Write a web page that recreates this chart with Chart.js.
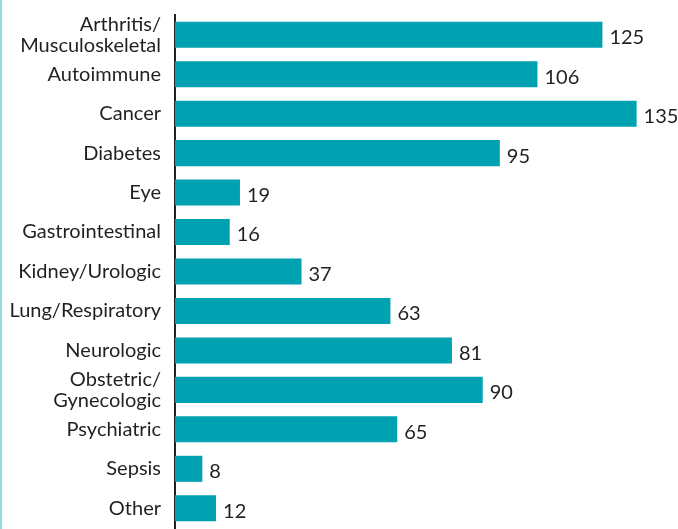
<!DOCTYPE html>
<html lang="en">
<head>
    <meta charset="UTF-8">
    <title>Conditions</title>
    <script src="https://cdn.jsdelivr.net/npm/chart.js"></script>
    <style>
        html, body {
            margin: 0;
            padding: 0;
            background: #fff;
        }
        #wrap {
            position: relative;
            width: 678px;
            height: 529px;
        }
        #edge {
            position: absolute;
            left: 0;
            top: 0;
            width: 2px;
            height: 529px;
            background: #8fdde4;
        }
    </style>
</head>
<body>
    <div id="wrap">
        <canvas id="chart" width="678" height="529"></canvas>
        <div id="edge"></div>
    </div>

    <script>
        // categories (multi-line ones as arrays)
        const categories = [
            ['Arthritis/', 'Musculoskeletal'],
            'Autoimmune',
            'Cancer',
            'Diabetes',
            'Eye',
            'Gastrointestinal',
            'Kidney/Urologic',
            'Lung/Respiratory',
            'Neurologic',
            ['Obstetric/', 'Gynecologic'],
            'Psychiatric',
            'Sepsis',
            'Other'
        ];
        const counts = [125, 106, 135, 95, 19, 16, 37, 63, 81, 90, 65, 8, 12];

        const barColor = '#00a2b1';
        const textColor = '#231f20';
        const fontFamily = 'Lato, "Open Sans", sans-serif';

        // number at the end of each bar
        const valueLabels = {
            id: 'valueLabels',
            afterDatasetsDraw(chart) {
                const ctx = chart.ctx;
                const meta = chart.getDatasetMeta(0);
                ctx.save();
                ctx.font = '20px ' + fontFamily;
                ctx.fillStyle = textColor;
                ctx.textAlign = 'left';
                ctx.textBaseline = 'middle';
                meta.data.forEach((bar, i) => {
                    ctx.fillText(String(counts[i]), bar.x + 7, bar.y + 3);
                });
                ctx.restore();
            }
        };

        const ctx = document.getElementById('chart').getContext('2d');
        new Chart(ctx, {
            type: 'bar',
            data: {
                labels: categories,
                datasets: [{
                    data: counts,
                    backgroundColor: barColor,
                    borderWidth: 0,
                    barPercentage: 0.66,
                    categoryPercentage: 1
                }]
            },
            options: {
                indexAxis: 'y',
                responsive: false,
                animation: false,
                layout: {
                    padding: { top: 15, bottom: 1, left: 0, right: 26 }
                },
                plugins: {
                    legend: { display: false },
                    tooltip: { enabled: false }
                },
                scales: {
                    x: {
                        min: 0,
                        max: 139.5,
                        display: false
                    },
                    y: {
                        afterFit(scale) {
                            scale.width = 175;
                            scale.paddingTop = 0;
                            scale.paddingBottom = 0;
                        },
                        grid: { display: false },
                        border: { display: true, color: '#231f20', width: 2 },
                        ticks: {
                            autoSkip: false,
                            color: textColor,
                            padding: 6,
                            font: { family: fontFamily, size: 20, lineHeight: 1.05 }
                        }
                    }
                }
            },
            plugins: [valueLabels]
        });
    </script>
</body>
</html>
